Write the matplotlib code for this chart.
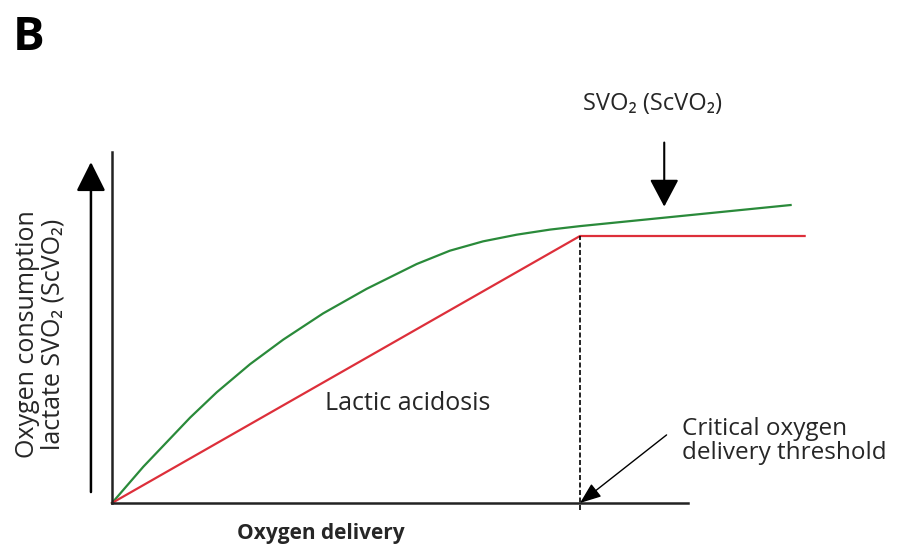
import matplotlib
matplotlib.use("Agg")
import matplotlib.pyplot as plt
import numpy as np

plt.rcParams['font.family'] = ['Open Sans', 'DejaVu Sans']

# oxygen delivery (x) vs consumption (y), arbitrary units
green_x = [0, 0.67, 1.67, 2.24, 2.95, 3.66, 4.51, 5.44, 6.51, 7.22, 7.93,
           8.65, 9.36, 10.0, 14.5]
green_y = [0, 1.36, 3.2, 4.15, 5.2, 6.12, 7.1, 8.02, 8.95, 9.45, 9.8,
           10.05, 10.24, 10.37, 11.16]
red_x = [0, 10.0, 14.8]
red_y = [0, 10.0, 10.0]
critical_x = 10.0
svo2_x = 11.8

W, H = 897, 550
fig = plt.figure(figsize=(W / 100, H / 100), dpi=100)

# axes box in pixels: left spine x=112, bottom y=503, right end 688, top 152
ax = fig.add_axes([112 / W, (H - 503) / H, (688 - 112) / W, (503 - 152) / H])
ax.set_xlim(0, 576 / 46.8)
ax.set_ylim(0, 351 / 26.7)
for s in ['top', 'right']:
    ax.spines[s].set_visible(False)
for s in ['left', 'bottom']:
    ax.spines[s].set_linewidth(1.8)
    ax.spines[s].set_color('#222222')
ax.set_xticks([])
ax.set_yticks([])
ax.patch.set_alpha(0)

ax.plot(green_x, green_y, color='#2a8a3a', lw=1.6, clip_on=False)
ax.plot(red_x, red_y, color='#dd2f3a', lw=1.6, clip_on=False)

# dashed critical line
ax.plot([critical_x, critical_x], [-0.25, red_y[1]], color='black', lw=1.2,
        ls=(0, (3, 1.5)), clip_on=False)

# y arrow on the left
ax.annotate('', xy=(-0.45, 12.77), xytext=(-0.45, 0.41),
            arrowprops=dict(arrowstyle='-|>,head_length=18,head_width=9',
                            mutation_scale=1, lw=1.8, color='black',
                            shrinkA=0, shrinkB=0),
            annotation_clip=False)

# SVO2 arrow
ax.annotate('', xy=(svo2_x, 11.1), xytext=(svo2_x, 13.5),
            arrowprops=dict(arrowstyle='-|>,head_length=17,head_width=9',
                            mutation_scale=1, lw=1.5, color='black',
                            shrinkA=0, shrinkB=0),
            annotation_clip=False)

# critical threshold arrow
ax.annotate('', xy=(critical_x, 0), xytext=(11.85, 2.55),
            arrowprops=dict(arrowstyle='-|>,head_length=13,head_width=5',
                            mutation_scale=1, lw=1.0, color='black',
                            shrinkA=0, shrinkB=0),
            annotation_clip=False)

txt = '#262626'
fig.text(13 / W, 1 - 14 / H, 'B', fontsize=34, fontweight='bold',
         ha='left', va='top', color='black')
fig.text(40 / W, 1 - 334 / H, 'Oxygen consumption\nlactate SVO\u2082 (ScVO\u2082)',
         rotation=90, ha='center', va='center', multialignment='center',
         fontsize=18, color=txt, linespacing=1.05)
fig.text(321 / W, 1 - 533 / H, 'Oxygen delivery', fontsize=15,
         fontweight='bold', ha='center', va='center', color=txt)
fig.text(408 / W, 1 - 404 / H, 'Lactic acidosis', fontsize=18,
         ha='center', va='center', color=txt)
fig.text(652 / W, 1 - 104 / H, 'SVO\u2082 (ScVO\u2082)', fontsize=17,
         ha='center', va='center', color=txt)
fig.text(682 / W, 1 - 417 / H, 'Critical oxygen\ndelivery threshold',
         fontsize=17.5, ha='left', va='top', color=txt, linespacing=1.0)

fig.savefig('out.png', dpi=100)
